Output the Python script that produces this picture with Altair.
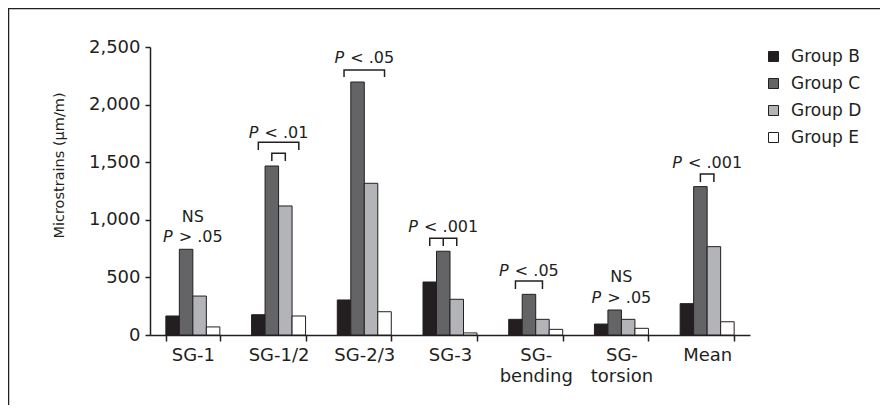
import altair as alt
import pandas as pd

# ---------------- data ----------------
categories = ["SG-1", "SG-1/2", "SG-2/3", "SG-3", "SG-bending", "SG-torsion", "Mean"]
groups = ["Group B", "Group C", "Group D", "Group E"]
group_b = [165, 176, 304, 460, 136, 95, 272]
group_c = [744, 1467, 2196, 727, 353, 217, 1288]
group_d = [338, 1120, 1317, 310, 136, 136, 767]
group_e = [70, 165, 202, 18, 49, 58, 115]
group_colors = ["#231f20", "#646466", "#b2b4b7", "#ffffff"]

y_ticks = [0, 500, 1000, 1500, 2000, 2500]

# significance brackets (category, from bar, to bar, top value, leg-bottom value)
br_cat = ["SG-1/2", "SG-1/2", "SG-2/3", "SG-3", "SG-bending", "Mean"]
br_from = ["Group B", "Group C", "Group B", "Group B", "Group B", "Group C"]
br_to = ["Group E", "Group D", "Group E", "Group D", "Group D", "Group D"]
br_top = [1673, 1577, 2300, 839, 469, 1398]
br_bottom = [1606, 1510, 2240, 773, 399, 1328]
# extra middle legs
leg_cat = ["SG-3"]
leg_group = ["Group C"]
leg_top = [839]
leg_bottom = [773]

# p-value annotations
ann_cat = ["SG-1", "SG-1/2", "SG-2/3", "SG-3", "SG-bending", "SG-torsion", "Mean"]
ann_text = ["> .05", "< .01", "< .05", "< .001", "< .05", "> .05", "< .001"]
ann_y = [851, 1756, 2402, 937, 558, 321, 1496]
ann_on_c = [False, False, False, True, True, False, False]
ns_cat = ["SG-1", "SG-torsion"]
ns_y = [1027, 506]

# ---------------- tables ----------------
series = {"Group B": group_b, "Group C": group_c, "Group D": group_d, "Group E": group_e}
bars = pd.DataFrame(
    [{"cat": c, "group": g, "value": series[g][i]} for g in groups for i, c in enumerate(categories)]
)

pts = []
for k in range(len(br_cat)):
    bid = f"b{k}"
    pts += [
        {"id": bid, "cat": br_cat[k], "group": br_from[k], "value": br_bottom[k], "o": 0},
        {"id": bid, "cat": br_cat[k], "group": br_from[k], "value": br_top[k], "o": 1},
        {"id": bid, "cat": br_cat[k], "group": br_to[k], "value": br_top[k], "o": 2},
        {"id": bid, "cat": br_cat[k], "group": br_to[k], "value": br_bottom[k], "o": 3},
    ]
for k in range(len(leg_cat)):
    bid = f"l{k}"
    pts += [
        {"id": bid, "cat": leg_cat[k], "group": leg_group[k], "value": leg_top[k], "o": 0},
        {"id": bid, "cat": leg_cat[k], "group": leg_group[k], "value": leg_bottom[k], "o": 1},
    ]
brackets = pd.DataFrame(pts)

FONT = "DejaVu Sans"
INK = "#231f20"
W, H = 600, 288

x_scale = alt.Scale(domain=categories, paddingInner=0.37, paddingOuter=0.185)
xo_scale = alt.Scale(domain=groups, paddingInner=0, paddingOuter=0)
y_scale = alt.Scale(domain=[0, 2500], nice=False)

x_axis = alt.Axis(
    title=None,
    labelAngle=0,
    tickBand="extent",
    tickSize=6,
    labelPadding=5,
    labelFont=FONT,
    labelFontSize=18,
    labelColor=INK,
    labelLineHeight=21,
    domainColor=INK,
    domainWidth=1.5,
    tickColor=INK,
    tickWidth=1.5,
    labelExpr="indexof(datum.label, 'SG-') == 0 && length(datum.label) > 7 ? ['SG-', slice(datum.label, 3)] : datum.label",
)
y_axis = alt.Axis(
    title="Microstrains (µm/m)",
    values=y_ticks,
    format=",d",
    labelExpr="format(datum.value, ',d')",
    grid=False,
    tickSize=5,
    labelPadding=5,
    labelFont=FONT,
    labelFontSize=18,
    labelColor=INK,
    titleFont=FONT,
    titleFontSize=14.5,
    titleFontWeight="normal",
    titleColor=INK,
    titleAngle=270,
    titleAlign="center",
    titleBaseline="middle",
    titleX=-91,
    titleY=118,
    domainColor=INK,
    domainWidth=1.5,
    tickColor=INK,
    tickWidth=1.5,
)

x_enc = alt.X("cat:N", scale=x_scale, sort=categories, axis=x_axis)
y_enc = alt.Y("value:Q", scale=y_scale, axis=y_axis)
xo_enc = alt.XOffset("group:N", scale=xo_scale, sort=groups)

bar_layer = alt.Chart(bars).mark_bar(stroke=INK, strokeWidth=1).encode(
    x=x_enc,
    xOffset=xo_enc,
    y=y_enc,
    fill=alt.Fill(
        "group:N",
        scale=alt.Scale(domain=groups, range=group_colors),
        legend=alt.Legend(
            orient="none",
            legendX=615,
            legendY=1,
            title=None,
            symbolType="square",
            symbolSize=100,
            symbolStrokeColor=INK,
            symbolStrokeWidth=1,
            labelFont=FONT,
            labelFontSize=17,
            labelColor=INK,
            labelOffset=9,
            rowPadding=9,
            padding=0,
        ),
    ),
)

bracket_layer = alt.Chart(brackets).mark_line(color=INK, strokeWidth=1.5, interpolate="linear").encode(
    x=x_enc,
    xOffset=xo_enc,
    y=y_enc,
    detail="id:N",
    order="o:Q",
)


def text_width(s, size):
    em = {" ": 0.318, "<": 0.838, ">": 0.838, ".": 0.318}
    return sum(em.get(ch, 0.636) for ch in s) * size


ANN_SIZE = 16
bar_w = (W / len(categories)) * 0.63 / 4
p_w = 0.603 * ANN_SIZE
space_w = 0.318 * ANN_SIZE + 1

layers = [bar_layer, bracket_layer]
for i in range(len(ann_cat)):
    row = pd.DataFrame([{"cat": ann_cat[i], "value": ann_y[i], "rest": ann_text[i], "p": "P"}])
    rest_w = text_width(ann_text[i], ANN_SIZE) + space_w
    shift = (p_w - rest_w) / 2 + (-bar_w / 2 if ann_on_c[i] else 0)
    base = alt.Chart(row).encode(x=x_enc, y=y_enc)
    layers.append(
        base.mark_text(font=FONT, fontSize=ANN_SIZE, fontStyle="italic", align="right",
                       baseline="middle", color=INK, dx=shift).encode(text="p:N")
    )
    layers.append(
        base.mark_text(font=FONT, fontSize=ANN_SIZE, align="left",
                       baseline="middle", color=INK, dx=shift + space_w).encode(text="rest:N")
    )

ns_df = pd.DataFrame({"cat": ns_cat, "value": ns_y, "t": ["NS"] * len(ns_cat)})
layers.append(
    alt.Chart(ns_df).mark_text(font=FONT, fontSize=ANN_SIZE, align="center", baseline="middle", color=INK).encode(
        x=x_enc, y=y_enc, text="t:N"
    )
)

# figure frame (left and top edges)
frame = alt.Data(values=[{}])
layers.append(
    alt.Chart(frame).mark_rule(color=INK, strokeWidth=1.5).encode(
        x=alt.value(-141.5), y=alt.value(-38.5), y2=alt.value(H + 70)
    )
)
layers.append(
    alt.Chart(frame).mark_rule(color=INK, strokeWidth=1.5).encode(
        x=alt.value(-142), x2=alt.value(W + 130), y=alt.value(-38.5)
    )
)

chart = (
    alt.layer(*layers)
    .properties(
        width=W,
        height=H,
        padding={"left": 142, "top": 39, "right": 130, "bottom": 70},
        autosize=alt.AutoSizeParams(type="none"),
        background="white",
    )
    .configure_view(stroke=None)
)

chart.save("out.html", embed_options={"renderer": "svg", "actions": False})
